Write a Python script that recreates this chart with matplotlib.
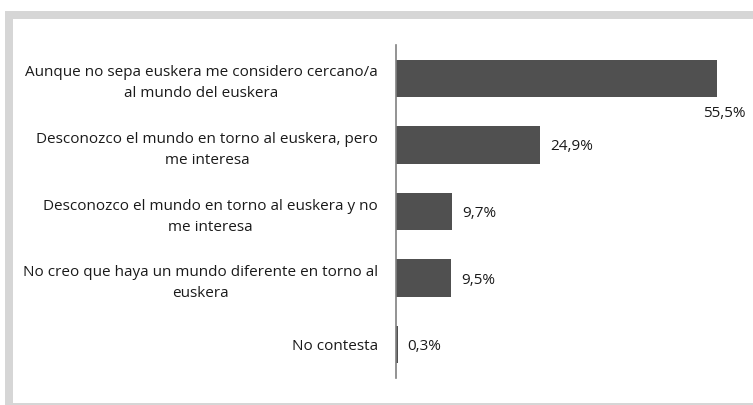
import matplotlib
matplotlib.use("Agg")
import matplotlib.pyplot as plt
from matplotlib.patches import Rectangle

categories = [
    "Aunque no sepa euskera me considero cercano/a\nal mundo del euskera",
    "Desconozco el mundo en torno al euskera, pero\nme interesa",
    "Desconozco el mundo en torno al euskera y no\nme interesa",
    "No creo que haya un mundo diferente en torno al\neuskera",
    "No contesta",
]
values = [55.5, 24.9, 9.7, 9.5, 0.3]
value_labels = ["55,5%", "24,9%", "9,7%", "9,5%", "0,3%"]

plt.rcParams['font.family'] = ['Open Sans', 'DejaVu Sans']

W, H = 753, 405
fig = plt.figure(figsize=(W / 100, H / 100), dpi=100)
fig.patch.set_facecolor('white')
# frame
fig.patches.append(Rectangle((5 / W, 0), 1, (H - 11) / H, transform=fig.transFigure,
                             facecolor='#d6d6d6', edgecolor='none', zorder=-2))
fig.patches.append(Rectangle((13 / W, 2 / H), 1, (H - 19 - 2) / H, transform=fig.transFigure,
                             facecolor='white', edgecolor='none', zorder=-1))

ax_left = 396 / W
ax_bottom = 1 - 378 / H
ax_top = 1 - 45 / H
xmax = 60
ax_width = xmax * 5.78 / W
ax = fig.add_axes([ax_left, ax_bottom, ax_width, ax_top - ax_bottom])
ax.patch.set_alpha(0)

y = list(range(len(categories)))
ax.barh(y, values, height=0.56, color='#505050', edgecolor='none')
ax.set_ylim(len(categories) - 0.5, -0.5)
ax.set_xlim(0, xmax)

ax.set_yticks(y)
ax.set_yticklabels(categories, fontsize=11, color='#1a1a1a', multialignment='center',
                   linespacing=1.55)
ax.tick_params(axis='y', length=0, pad=13)
ax.set_xticks([])
for s in ['top', 'right', 'bottom']:
    ax.spines[s].set_visible(False)
ax.spines['left'].set_color('#808080')
ax.spines['left'].set_linewidth(1.2)

for i, (v, lab) in enumerate(zip(values, value_labels)):
    if i == 0:
        ax.annotate(lab, (v, i), xytext=(8, -35), textcoords='offset pixels',
                    ha='center', va='center', fontsize=11, color='#1a1a1a')
    else:
        ax.annotate(lab, (v, i), xytext=(10, -2), textcoords='offset pixels',
                    ha='left', va='center', fontsize=11, color='#1a1a1a')

fig.savefig('out.png', dpi=100)
